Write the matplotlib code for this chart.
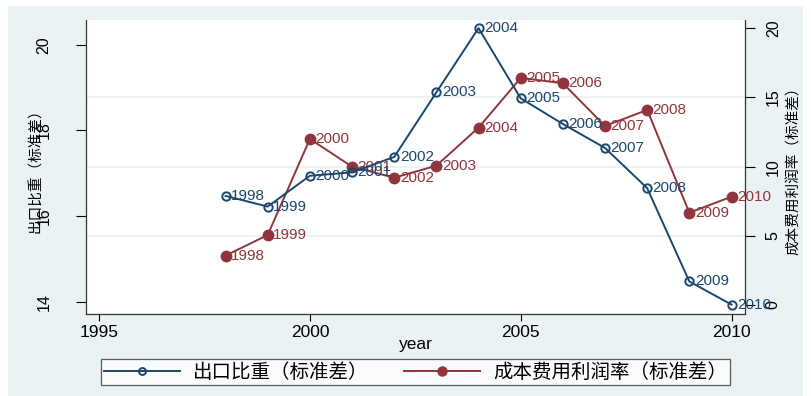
import matplotlib.pyplot as plt
from matplotlib.patches import Rectangle
from matplotlib.lines import Line2D

plt.rcParams['font.family'] = ['Liberation Sans', 'Noto Sans CJK SC', 'DejaVu Sans']

years = [1998, 1999, 2000, 2001, 2002, 2003, 2004, 2005, 2006, 2007, 2008, 2009, 2010]
# 出口比重（标准差）, left axis
export_share = [16.47, 16.22, 16.94, 17.02, 17.38, 18.89, 20.39, 18.75, 18.15, 17.59, 16.65, 14.47, 13.93]
# 成本费用利润率（标准差）, right axis
profit_rate = [3.57, 5.06, 12.0, 10.0, 9.2, 10.07, 12.82, 16.41, 16.03, 12.94, 14.1, 6.67, 7.83]

left_ticks = [14, 16, 18, 20]
right_ticks = [0, 5, 10, 15, 20]
x_ticks = [1995, 2000, 2005, 2010]

blue = '#1a476f'
red = '#90353b'
bg = '#eaf2f3'
cjk = ['Noto Sans CJK SC']

fig = plt.figure(figsize=(8.12, 3.96), dpi=100)
fig.patches.append(Rectangle((8 / 812, 0), 795 / 812, 390 / 396, transform=fig.transFigure,
                             facecolor=bg, edgecolor='none', zorder=-10))

ax = fig.add_axes([86 / 812, 1 - 314 / 396, 659 / 812, 294 / 396])
ax2 = ax.twinx()
ax.set_zorder(ax2.get_zorder() + 1)
ax.patch.set_visible(False)
ax2.patch.set_visible(True)
ax2.patch.set_facecolor('white')

# grid follows the right axis
for g in [5, 10, 15]:
    ax2.axhline(g, color=bg, lw=1.3, zorder=0)

ax.plot(years, export_share, color=blue, lw=1.4, marker='o', ms=6, mfc='none',
        mec=blue, mew=1.4, zorder=3)
ax2.plot(years, profit_rate, color=red, lw=1.4, marker='o', ms=7.5, mfc=red,
         mec=red, zorder=3)

for yr, v in zip(years, export_share):
    ax.annotate(str(yr), (yr, v), xytext=(4, 0), textcoords='offset points',
                color=blue, fontsize=11, va='center', ha='left', zorder=4)
for yr, v in zip(years, profit_rate):
    ax2.annotate(str(yr), (yr, v), xytext=(4, 0), textcoords='offset points',
                 color=red, fontsize=11, va='center', ha='left', zorder=4)

ax.set_xlim(1994.69, 2010.32)
ax.set_ylim(13.71, 20.58)
ax2.set_ylim(-0.65, 20.6)

ax.set_xticks(x_ticks)
ax.set_yticks(left_ticks)
ax2.set_yticks(right_ticks)
ax.tick_params(axis='x', labelsize=12.5, length=5, width=0.8, pad=3)
ax.tick_params(axis='y', labelsize=11.5, length=7, width=0.8, rotation=90, pad=18)
ax2.tick_params(axis='y', labelsize=11.5, length=7, width=0.8, rotation=90, pad=8)
for lab in ax.get_yticklabels() + ax2.get_yticklabels():
    lab.set_va('center')

for a in (ax, ax2):
    a.spines['top'].set_visible(False)
    for s in ('left', 'right', 'bottom'):
        a.spines[s].set_color('#333333')
        a.spines[s].set_linewidth(0.9)
ax.spines['right'].set_visible(False)
ax2.spines['left'].set_visible(False)
ax2.spines['bottom'].set_visible(False)

ax.set_xlabel('year', fontsize=12.5, labelpad=-2)
ax.set_ylabel('出口比重（标准差）', fontsize=10.5, fontfamily=cjk)
ax.yaxis.set_label_coords(-43 / 659, 0.5)
ax2.set_ylabel('成本费用利润率（标准差）', fontsize=10.5, fontfamily=cjk, rotation=90)
ax2.yaxis.set_label_coords(1 + 42 / 659, 0.5)

handles = [
    Line2D([], [], color=blue, lw=1.4, marker='o', ms=5, mfc='none', mec=blue, mew=1.4),
    Line2D([], [], color=red, lw=1.4, marker='o', ms=6.5, mfc=red, mec=red),
]
leg = fig.legend(handles, ['出口比重（标准差）', '成本费用利润率（标准差）'], ncol=2,
                 loc='center', bbox_to_anchor=(415.5 / 812, 1 - 372 / 396),
                 prop={'family': cjk, 'size': 14, 'weight': 'light'},
                 frameon=True, fancybox=False, edgecolor='#333333',
                 handlelength=3.9, columnspacing=1.8, borderpad=0.12, handletextpad=0.7)
leg.get_frame().set_linewidth(0.9)

fig.savefig('out.png', dpi=100)
